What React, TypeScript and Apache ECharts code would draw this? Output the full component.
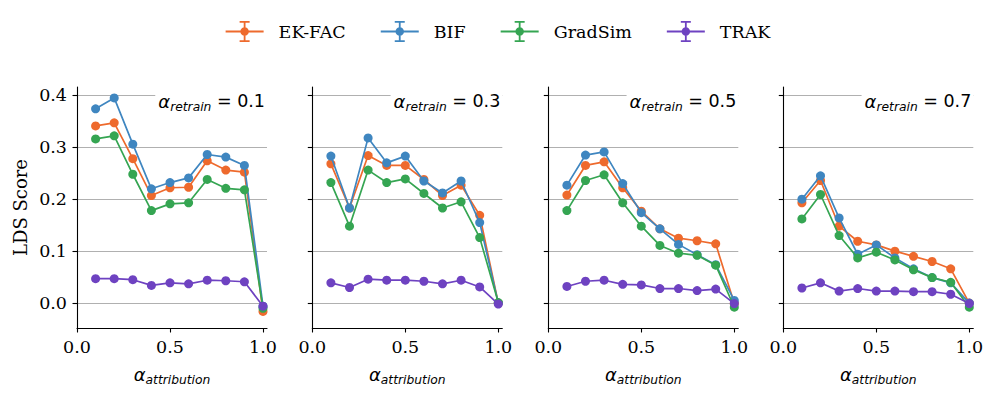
import React, { useEffect, useRef } from "react";
import * as echarts from "echarts";

const methods = ["EK-FAC", "BIF", "GradSim", "TRAK"];
const methodColors = ["#ee6a2d", "#3f86c0", "#35a552", "#6e42c1"];
const alphaAttribution = [0.1, 0.2, 0.3, 0.4, 0.5, 0.6, 0.7, 0.8, 0.9, 1.0];
const alphaRetrain = ["0.1", "0.3", "0.5", "0.7"];
const yTickValues = [0, 0.1, 0.2, 0.3, 0.4];
const xTickValues = [0, 0.5, 1.0];

// alpha_retrain = 0.1
const ekfacR01 = [0.341, 0.347, 0.278, 0.207, 0.222, 0.223, 0.274, 0.256, 0.252, -0.016];
const bifR01 = [0.374, 0.395, 0.306, 0.220, 0.232, 0.241, 0.286, 0.281, 0.265, -0.006];
const gradsimR01 = [0.316, 0.322, 0.248, 0.178, 0.191, 0.193, 0.238, 0.221, 0.218, -0.010];
const trakR01 = [0.047, 0.047, 0.045, 0.034, 0.039, 0.037, 0.044, 0.043, 0.041, -0.006];
// alpha_retrain = 0.3
const ekfacR03 = [0.268, 0.183, 0.284, 0.265, 0.265, 0.238, 0.207, 0.227, 0.169, 0.0];
const bifR03 = [0.283, 0.183, 0.318, 0.270, 0.283, 0.235, 0.212, 0.235, 0.155, 0.0];
const gradsimR03 = [0.232, 0.148, 0.256, 0.232, 0.239, 0.211, 0.183, 0.195, 0.126, 0.001];
const trakR03 = [0.039, 0.030, 0.046, 0.044, 0.044, 0.042, 0.037, 0.044, 0.031, -0.002];
// alpha_retrain = 0.5
const ekfacR05 = [0.208, 0.265, 0.272, 0.222, 0.177, 0.143, 0.125, 0.120, 0.114, -0.001];
const bifR05 = [0.227, 0.285, 0.291, 0.230, 0.174, 0.143, 0.113, 0.093, 0.074, 0.005];
const gradsimR05 = [0.178, 0.236, 0.247, 0.193, 0.148, 0.111, 0.096, 0.092, 0.073, -0.008];
const trakR05 = [0.032, 0.042, 0.044, 0.036, 0.035, 0.028, 0.028, 0.024, 0.027, -0.001];
// alpha_retrain = 0.7
const ekfacR07 = [0.193, 0.236, 0.148, 0.119, 0.112, 0.100, 0.090, 0.080, 0.066, 0.0];
const bifR07 = [0.200, 0.245, 0.164, 0.094, 0.112, 0.087, 0.066, 0.049, 0.039, 0.0];
const gradsimR07 = [0.162, 0.209, 0.130, 0.087, 0.098, 0.083, 0.064, 0.049, 0.040, -0.008];
const trakR07 = [0.029, 0.039, 0.023, 0.028, 0.023, 0.023, 0.022, 0.022, 0.017, -0.001];

const panelData = [
  [ekfacR01, bifR01, gradsimR01, trakR01],
  [ekfacR03, bifR03, gradsimR03, trakR03],
  [ekfacR05, bifR05, gradsimR05, trakR05],
  [ekfacR07, bifR07, gradsimR07, trakR07],
];

const panelLefts = [77, 312.3, 548.3, 783.3];
const panelTop = 87;
const panelWidth = 190;
const panelHeight = 241;

const serif = "DejaVu Serif";
const sans = "DejaVu Sans";

const legendIcon =
  "path://M0,9.6h38v1.8h-38z M18.1,0h1.8v21h-1.8z M14,0h10v1.8h-10z M14,19.2h10v1.8h-10z M14.75,10.5a4.25,4.25 0 1,1 8.5,0a4.25,4.25 0 1,1 -8.5,0z";

const mathRich = {
  a: { fontFamily: sans, fontStyle: "italic", fontSize: 18, color: "#000", lineHeight: 22, verticalAlign: "top" },
  s: { fontFamily: sans, fontStyle: "italic", fontSize: 12.3, color: "#000", lineHeight: 13, padding: [9, 0, 0, 0], verticalAlign: "top" },
  e: { fontFamily: sans, fontSize: 17.5, color: "#000", lineHeight: 22, verticalAlign: "top" },
};

export default function App() {
  const ref = useRef<HTMLDivElement>(null);
  useEffect(() => {
    if (!ref.current) return;
    const chart = echarts.init(ref.current, undefined, { renderer: "svg" });
    const grids = panelLefts.map((left) => ({ left, top: panelTop, width: panelWidth, height: panelHeight }));
    const xAxes = panelLefts.map((_, i) => ({
      type: "value",
      gridIndex: i,
      min: 0,
      max: 1.0215,
      axisLine: { show: true, onZero: false, lineStyle: { color: "#000", width: 1.1 } },
      axisTick: { show: true, length: 4.5, customValues: xTickValues, lineStyle: { color: "#000", width: 1.1 } },
      axisLabel: {
        customValues: xTickValues,
        formatter: (v: number) => v.toFixed(1),
        fontFamily: serif,
        fontSize: 17.5,
        color: "#000",
        margin: 10,
      },
      splitLine: { show: false },
      name: "{a|α}{s|attribution}",
      nameLocation: "middle",
      nameGap: 37,
      nameTextStyle: { rich: mathRich },
    }));
    const yAxes = panelLefts.map((_, i) => ({
      type: "value",
      gridIndex: i,
      min: -0.048,
      max: 0.416,
      axisLine: { show: true, onZero: false, lineStyle: { color: "#000", width: 1.1 } },
      axisTick: { show: true, length: 4.5, customValues: yTickValues, lineStyle: { color: "#000", width: 1.1 } },
      axisLabel: {
        show: i === 0,
        customValues: yTickValues,
        formatter: (v: number) => v.toFixed(1),
        fontFamily: serif,
        fontSize: 17.5,
        color: "#000",
        margin: 10,
      },
      splitLine: { show: true, lineStyle: { color: "#b0b0b0", width: 1.2 } },
      name: i === 0 ? "LDS Score" : "",
      nameLocation: "middle",
      nameRotate: 90,
      nameGap: 48,
      nameTextStyle: { fontFamily: serif, fontSize: 18, color: "#000" },
    }));
    const series: any[] = [];
    panelData.forEach((group, p) => {
      group.forEach((vals, m) => {
        series.push({
          type: "line",
          name: methods[m],
          xAxisIndex: p,
          yAxisIndex: p,
          data: alphaAttribution.map((x, k) => [x, vals[k]]),
          symbol: "circle",
          symbolSize: 9,
          showSymbol: true,
          color: methodColors[m],
          lineStyle: { width: 1.7, color: methodColors[m] },
          itemStyle: { color: methodColors[m] },
          z: 2 + m,
        });
      });
    });
    const graphic = panelLefts.map((left, i) => ({
      type: "text",
      x: left + panelWidth,
      y: 103,
      z: 100,
      style: {
        text: `{a|α}{s|retrain}{e| = ${alphaRetrain[i]}}`,
        align: "right",
        verticalAlign: "middle",
        backgroundColor: "#fff",
        padding: [4, 2, 4, 3],
        rich: mathRich,
      },
    }));
    chart.setOption({
      animation: false,
      backgroundColor: "#fff",
      grid: grids,
      xAxis: xAxes,
      yAxis: yAxes,
      series,
      graphic,
      legend: {
        data: methods,
        icon: legendIcon,
        itemWidth: 38,
        itemHeight: 21,
        itemGap: 35,
        top: 16,
        left: "center",
        itemStyle: { borderWidth: 0 },
        lineStyle: { width: 0 },
        formatter: (name: string) => `{t|${name}}`,
        textStyle: {
          rich: { t: { fontFamily: serif, fontSize: 17.5, color: "#000", padding: [0, 0, 0, 10] } },
        },
      },
    });
    return () => chart.dispose();
  }, []);
  return <div ref={ref} style={{ position: "fixed", left: 0, top: 0, width: 996, height: 395 }} />;
}
